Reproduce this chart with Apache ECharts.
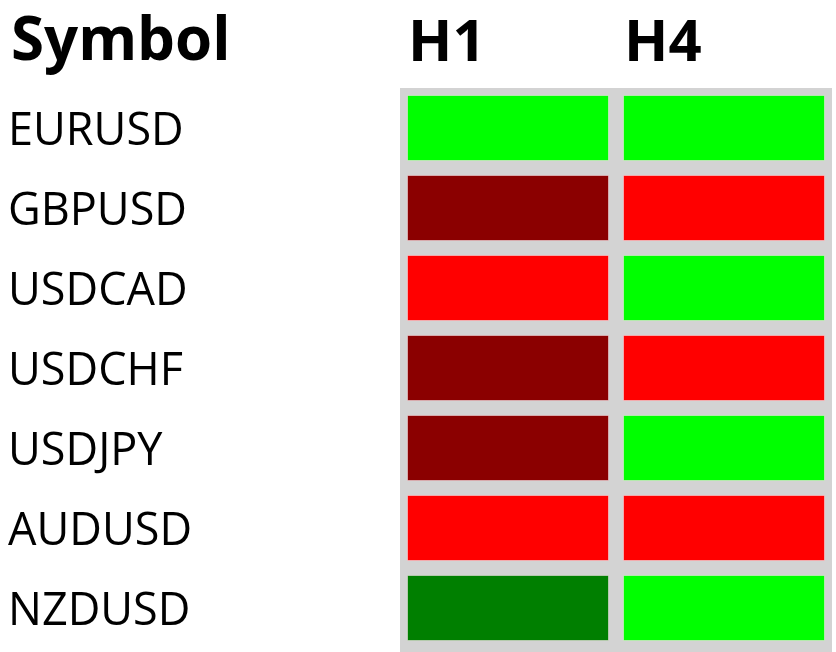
<!DOCTYPE html>
<html>
<head>
<meta charset="utf-8">
<script src="https://cdn.jsdelivr.net/npm/echarts@6/dist/echarts.min.js"></script>
<style>html,body{margin:0;padding:0;background:#fff;}#c{width:836px;height:652px;}</style>
</head>
<body>
<div id="c"></div>
<script>
const symbols = ['EURUSD','GBPUSD','USDCAD','USDCHF','USDJPY','AUDUSD','NZDUSD'];
const timeframes = ['H1','H4'];
// trend state: 2 strong up, 1 up, -1 down, -2 strong down
const h1Values = [2,-2,-1,-2,-2,-1,1];
const h4Values = [2,-1,2,-1,2,-1,2];
const headerTitle = 'Symbol';

const seriesValues = [h1Values, h4Values];
const data = [];
seriesValues.forEach((vals, xi) => vals.forEach((v, yi) => data.push([xi, yi, v])));

const chart = echarts.init(document.getElementById('c'));
const font = '"Open Sans", "Noto Sans", sans-serif';
const panel = '#d3d3d3';
const gap = 7.5;
chart.setOption({
  backgroundColor: '#ffffff',
  animation: false,
  title: {
    text: headerTitle, left: 6, top: 8,
    textStyle: {fontFamily: font, fontWeight: 'bold', fontSize: 60, color: '#000'}
  },
  graphic: [{
    type: 'rect', z: -10, silent: true,
    shape: {x: 400, y: 88, width: 432, height: 564},
    style: {fill: panel}
  }],
  grid: {left: 400, top: 88, width: 432, height: 560, containLabel: false},
  xAxis: {
    type: 'category', data: timeframes, position: 'top',
    axisLine: {show: false}, axisTick: {show: false}, splitLine: {show: false},
    axisLabel: {
      interval: 0, hideOverlap: false,
      margin: 15, color: '#000', fontFamily: font, fontWeight: 'bold', fontSize: 58,
      formatter: v => '{a|' + v + '}',
      rich: {a: {width: 200, align: 'left', fontFamily: font, fontWeight: 'bold', fontSize: 58, color: '#000'}}
    }
  },
  yAxis: {
    type: 'category', data: symbols, inverse: true,
    axisLine: {show: false}, axisTick: {show: false}, splitLine: {show: false},
    axisLabel: {
      interval: 0, margin: 392, align: 'left', color: '#000', fontFamily: font, fontSize: 45,
      formatter: v => '{s|' + v + '}',
      rich: {s: {fontFamily: font, fontSize: 45, color: '#000', lineHeight: 50, padding: [8, 0, 0, 0]}}
    }
  },
  visualMap: {
    type: 'piecewise', show: false, dimension: 2,
    pieces: [
      {value: 2, color: '#00ff00'},
      {value: 1, color: '#007f00'},
      {value: -1, color: '#ff0000'},
      {value: -2, color: '#8b0000'}
    ]
  },
  series: [{
    type: 'custom', data: data,
    encode: {x: 0, y: 1},
    renderItem: function (params, api) {
      const c = api.coord([api.value(0), api.value(1)]);
      const s = api.size([1, 1]);
      return {
        type: 'rect',
        shape: {x: c[0] - s[0] / 2 + gap, y: c[1] - s[1] / 2 + gap, width: s[0] - 2 * gap, height: s[1] - 2 * gap},
        style: {fill: api.visual('color'), stroke: 'rgba(255,235,240,0.5)', lineWidth: 1}
      };
    }
  }]
});
</script>
</body>
</html>
